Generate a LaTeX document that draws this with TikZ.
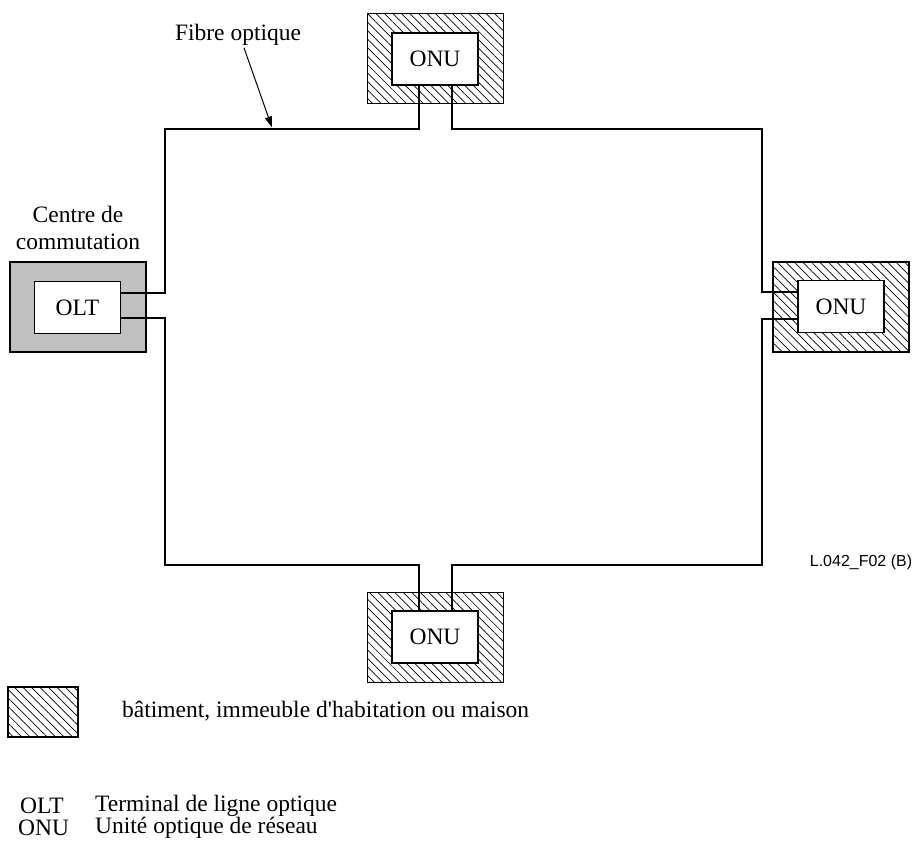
\documentclass[tikz,border=0pt]{standalone}
\usepackage{fontspec}
\setmainfont{Liberation Serif}
\setsansfont{Liberation Sans}
\usetikzlibrary{patterns.meta,arrows.meta}
\definecolor{siteGrey}{HTML}{C0C0C0}
\tikzset{
  building/.style={draw=black, line width=1.3pt, minimum width=136pt, minimum height=90pt,
    inner sep=0pt, outer sep=0pt,
    pattern={Lines[angle=-45,distance=6pt,line width=0.7pt]}},
  exchange/.style={draw=black, line width=1.3pt, fill=siteGrey, minimum width=136pt,
    minimum height=90pt, inner sep=0pt, outer sep=0pt},
  unit/.style={draw=black, line width=1.3pt, fill=white, minimum width=86pt,
    minimum height=52pt, inner sep=0pt, outer sep=0pt, font=\fontsize{23.5}{28}\selectfont},
  fiber/.style={draw=black, line width=1.9pt, line join=miter},
  txt/.style={inner sep=0pt, font=\fontsize{23.5}{27}\selectfont},
}
\begin{document}
\begin{tikzpicture}[x=1pt,y=-1pt]
\useasboundingbox (0,0) rectangle (916,851);

% premises
\node[exchange] (co) at (78,307) {};
\node[building] (bT) at (435.5,58.5) {};
\node[building] (bR) at (841,307) {};
\node[building] (bB) at (435.5,637.5) {};

% terminals
\node[unit] (olt) at (77.5,307.5) {OLT};
\node[unit] (onuT) at (435,59) {ONU};
\node[unit] (onuR) at (841,306.5) {ONU};
\node[unit] (onuB) at (435,637) {ONU};

% ring corners
\coordinate (ctl) at (165,129);
\coordinate (ctr) at (762,129);
\coordinate (cbl) at (165,565);
\coordinate (cbr) at (762,565);

% fibre ring
\draw[fiber] ([yshift=14.5pt]olt.east) -| (ctl) -| ([xshift=-16pt]onuT.south);
\draw[fiber] ([xshift=17pt]onuT.south) |- (ctr) |- ([yshift=14.5pt]onuR.west);
\draw[fiber] ([yshift=-12.5pt]onuR.west) -| (cbr) -| ([xshift=17pt]onuB.north);
\draw[fiber] ([xshift=-16pt]onuB.north) |- (cbl) |- ([yshift=-10.5pt]olt.east);

% labels
\node[txt] (fibre) at (238,35) {Fibre optique};
\coordinate (tip) at (272,127.5);
\draw[line width=1pt, -{Triangle[length=11pt,width=7pt]}] ([xshift=6pt,yshift=-2pt]fibre.south) -- (tip);
\node[txt, align=center] (centre) at (78,228) {Centre de\\commutation};
\node[inner sep=0pt, font=\sffamily\fontsize{16}{19}\selectfont] (ref) at (861,562) {L.042\_F02 (B)};

% legend
\node[building, minimum width=70pt, minimum height=50pt] (key) at (43,712) {};
\node[txt, anchor=west] (keytxt) at (122,711) {bâtiment, immeuble d\textquotesingle habitation ou maison};
\node[txt, anchor=west] (ab1) at (20,806) {OLT};
\node[txt, anchor=west] (ab1t) at (95,806) {Terminal de ligne optique};
\node[txt, anchor=west] (ab2) at (18,828) {ONU};
\node[txt, anchor=west] (ab2t) at (95,828) {Unité optique de réseau};
\end{tikzpicture}
\end{document}
